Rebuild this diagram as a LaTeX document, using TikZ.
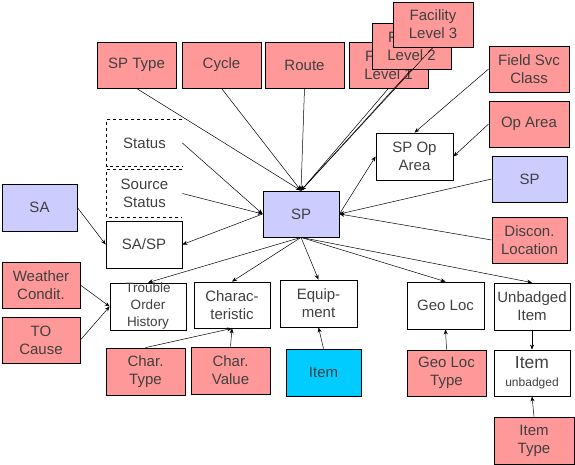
\documentclass[tikz,border=0pt]{standalone}
\usepackage{fontspec}
\setmainfont{Liberation Sans}
\usetikzlibrary{arrows.meta}
\definecolor{tabpink}{HTML}{FF9999}
\definecolor{tabblue}{HTML}{CCCCFF}
\definecolor{tabcyan}{HTML}{00CCFF}
\definecolor{labelgray}{HTML}{404040}

\begin{document}
\begin{tikzpicture}[x=1pt, y=-1pt,
    box/.style={draw, line width=0.8pt, align=center, inner sep=0pt,
      minimum width=77pt, minimum height=46pt, text=labelgray,
      font=\fontsize{15}{18}\selectfont},
    pinkbox/.style={box, fill=tabpink, minimum width=79pt},
    bluebox/.style={box, fill=tabblue, minimum width=75pt},
    link/.style={line width=0.5pt, -{Stealth[length=5pt, width=4pt]}}]
      \useasboundingbox (0,0) rectangle (575,465);
      % code tables along the top
      \node[pinkbox] (sptype) at (136.5, 65) {SP Type};
      \node[pinkbox] (cycle) at (221.5, 65) {Cycle};
      \node[pinkbox] (route) at (304.5, 65) {Route};
      \node[pinkbox] (fac1) at (388.5, 65) {Facility\\Level 1};
      \node[pinkbox] (fac2) at (411.5, 46) {Facility\\Level 2};
      \node[pinkbox, minimum width=80pt, minimum height=45pt] (fac3) at (433, 24.5) {Facility\\Level 3};
      \node[pinkbox, minimum width=80pt] (fieldsvc) at (529, 69) {Field Svc\\Class};
      \node[pinkbox, minimum width=80pt] (oparea) at (529, 124) {Op Area};
      \node[box, minimum height=47pt] (spoparea) at (414.5, 156.5) {SP Op\\Area};
      \node[bluebox] (spright) at (529.5, 179) {SP};
      \node[pinkbox, minimum width=75pt] (discon) at (529.5, 240) {Discon.\\Location};
      % the service point
      \node[bluebox, minimum width=76pt] (sp) at (301, 214) {SP};
      % left side
      \node[box, draw=none, minimum width=75pt] (status) at (144.5, 143) {Status};
      \node[box, draw=none, minimum width=75pt, minimum height=47pt] (srcstatus) at (144.5, 193.5) {Source\\Status};
      \draw[dashed, line width=0.8pt] (status.north east) -- (status.north west) -- (status.south west) -- (status.south east);
      \draw[dashed, line width=0.8pt] (srcstatus.north east) -- (srcstatus.north west) -- (srcstatus.south west) -- (srcstatus.south east);
      \node[bluebox, minimum height=47pt] (sa) at (39.5, 207.5) {SA};
      \node[box, minimum width=76pt, minimum height=47pt] (sasp) at (144, 244.5) {SA/SP};
      \node[pinkbox, minimum width=78pt] (weather) at (41, 285) {Weather\\Condit.};
      \node[pinkbox, minimum width=78pt] (tocause) at (41, 340) {TO\\Cause};
      % children below
      \node[box, minimum width=76pt, minimum height=47pt, font=\fontsize{13.5}{17}\selectfont] (toh) at (148, 306.5) {Trouble\\Order\\History};
      \node[box, minimum width=76pt] (charac) at (232, 305) {Charac-\\teristic};
      \node[pinkbox, minimum height=47pt] (chartype) at (145.5, 371.5) {Char.\\Type};
      \node[pinkbox, minimum height=47pt] (charvalue) at (230.5, 370.5) {Char.\\Value};
      \node[box, minimum height=47pt] (equip) at (318.5, 303.5) {Equip-\\ment};
      \node[box, fill=tabcyan, minimum width=75pt, minimum height=47pt] (item) at (323.5, 372.5) {Item};
      \node[box, minimum height=47pt] (geoloc) at (445.5, 305.5) {Geo Loc};
      \node[pinkbox] (geoloctype) at (446.5, 373) {Geo Loc\\Type};
      \node[box, minimum width=76pt, minimum height=47pt] (unbadged) at (532, 306.5) {Unbadged\\Item};
      \node[box, minimum width=76pt] (itemub) at (532, 373) {{\fontsize{17.5}{20}\selectfont Item}\\{\fontsize{12}{15}\selectfont unbadged}};
      \node[pinkbox, minimum width=80pt, minimum height=47pt] (itemtype) at (534, 440.5) {Item\\Type};
      % connectors into SP
      \draw[link] (sptype.south) -- (sp.north);
      \draw[link] (cycle.south) -- (sp.north);
      \draw[link] (route.south) -- (sp.north);
      \draw[link] (fac1.south) -- (sp.north);
      \draw[link] (fac2.south) -- (sp.north);
      \draw[link] (fac3.south) -- (sp.north);
      \draw[link] (status.east) -- (sp.west);
      \draw[link] (srcstatus.east) -- (sp.west);
      \draw[link] (spright.west) -- (sp.east);
      \draw[link] (discon.west) -- (sp.east);
      % SP op area
      \draw[link] (sp.east) -- (spoparea.west);
      \draw[link] (fieldsvc.west) -- (spoparea.north);
      \draw[link] (oparea.west) -- (spoparea.east);
      % SA/SP
      \draw[link] (sp.west) -- (sasp.east);
      \draw[link] (sa.east) -- (sasp.west);
      % out of SP downwards
      \draw[link] (sp.south) -- (toh.north);
      \draw[link] (sp.south) -- (charac.north);
      \draw[link] (sp.south) -- (equip.north);
      \draw[link] (sp.south) -- (geoloc.north);
      \draw[link] (sp.south) -- (unbadged.north);
      % lower code tables
      \draw[link] (weather.east) -- (toh.west);
      \draw[link] (tocause.east) -- (toh.west);
      \draw[link] (chartype.north) -- (charac.south);
      \draw[link] (charvalue.north) -- (charac.south);
      \draw[link] (item.north) -- (equip.south);
      \draw[link] (geoloctype.north) -- (geoloc.south);
      \draw[link] (unbadged.south) -- (itemub.north);
      \draw[link] (itemtype.north) -- (itemub.south);
    \end{tikzpicture}
\end{document}
